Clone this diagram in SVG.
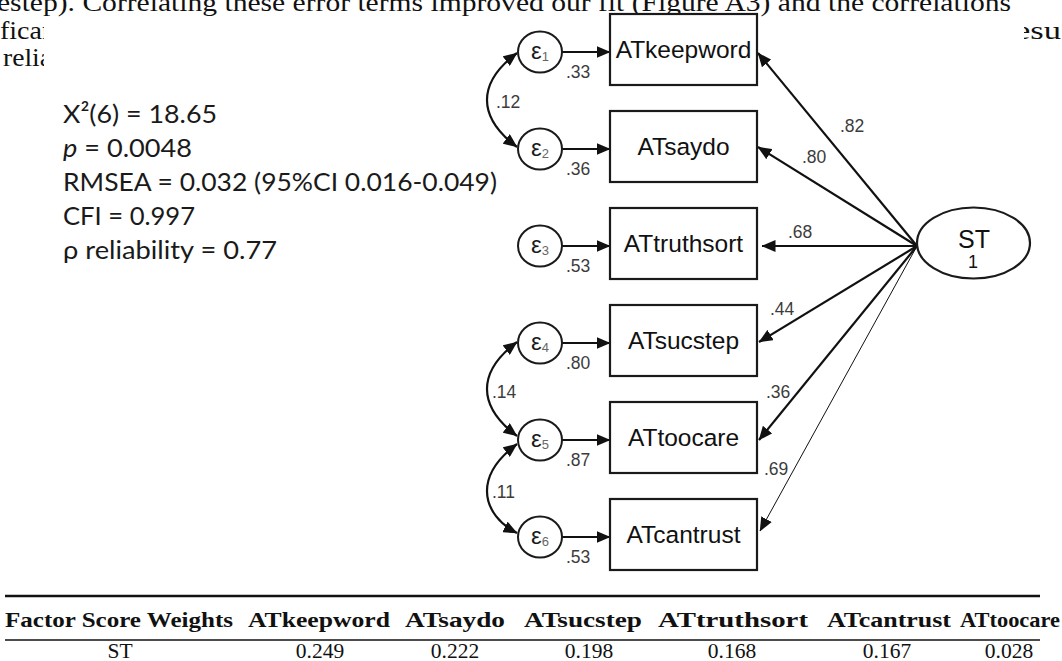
<svg xmlns="http://www.w3.org/2000/svg" width="1062" height="661" viewBox="0 0 1062 661">
  <style>
    .para { font-family: "Liberation Serif", "Times New Roman", serif; font-size: 25px; fill: #111; }
    .fit { font-family: Lato, "Open Sans", sans-serif; font-size: 25.5px; fill: #1a1a1a; }
    .obs rect { fill: #fff; stroke: #1a1a1a; stroke-width: 2.2; }
    .obs text { font-family: "Liberation Sans", Arial, sans-serif; font-size: 24.5px; fill: #111; text-anchor: middle; }
    .err ellipse { fill: #fff; stroke: #1a1a1a; stroke-width: 2; }
    .err text { font-family: "Liberation Sans", Arial, sans-serif; font-size: 24px; fill: #1a1a1a; text-anchor: middle; }
    .sub { font-size: 13px; fill: #666; }
    .num { font-family: "Liberation Sans", Arial, sans-serif; font-size: 17.5px; fill: #3c3c3c; }
    .edge { fill: none; stroke: #111; stroke-width: 2.2; marker-end: url(#ah); }
    .thin { stroke-width: 1; }
    .cov { fill: none; stroke: #111; stroke-width: 2.2; marker-start: url(#ah); marker-end: url(#ah); }
    .tbl { font-family: "Liberation Serif", "Times New Roman", serif; font-size: 21.5px; fill: #111; text-anchor: middle; }
    .hd { font-weight: bold; }
  </style>
  <defs>
    <marker id="ah" viewBox="0 0 14 12" refX="13.5" refY="6" markerWidth="14" markerHeight="12"
            markerUnits="userSpaceOnUse" orient="auto-start-reverse">
      <path d="M0,0 L14,6 L0,12 z" fill="#111"/>
    </marker>
    <clipPath id="clipL"><rect x="0" y="0" width="44" height="80"/></clipPath>
    <clipPath id="clipR"><rect x="1024" y="0" width="40" height="80"/></clipPath>
  </defs>

  <!-- running paragraph text around the figure -->
  <g id="paragraph" class="para">
    <text x="-3" y="11" textLength="1014" lengthAdjust="spacingAndGlyphs">estep). Correlating these error terms improved our fit (Figure A3) and the correlations</text>
    <text x="0" y="39" clip-path="url(#clipL)" textLength="56" lengthAdjust="spacingAndGlyphs">fican</text>
    <text x="1015" y="39" clip-path="url(#clipR)" textLength="46" lengthAdjust="spacingAndGlyphs">esu</text>
    <text x="3" y="66" clip-path="url(#clipL)" textLength="49" lengthAdjust="spacingAndGlyphs">relia</text>
  </g>

  <!-- model fit statistics -->
  <g id="fit-stats" class="fit">
    <text x="63" y="123" textLength="154" lengthAdjust="spacingAndGlyphs">X²(6) = 18.65</text>
    <text x="63" y="157" textLength="129" lengthAdjust="spacingAndGlyphs"><tspan font-style="italic">p</tspan> = 0.0048</text>
    <text x="63" y="191" textLength="434" lengthAdjust="spacingAndGlyphs">RMSEA = 0.032 (95%CI 0.016-0.049)</text>
    <text x="63" y="225" textLength="132" lengthAdjust="spacingAndGlyphs">CFI = 0.997</text>
    <text x="63" y="259" textLength="214" lengthAdjust="spacingAndGlyphs">ρ reliability = 0.77</text>
  </g>

  <!-- connectors: loadings, error paths, error covariances -->
  <g id="connectors">
    <line class="edge" x1="917" y1="246" x2="758" y2="53"/>
    <line class="edge" x1="917" y1="246" x2="758" y2="147"/>
    <line class="edge" x1="917" y1="246" x2="762" y2="246"/>
    <line class="edge" x1="917" y1="246" x2="759" y2="342"/>
    <line class="edge" x1="917" y1="246" x2="759" y2="440"/>
    <line class="edge thin" x1="917" y1="246" x2="760" y2="531"/>

    <line class="edge" x1="562" y1="52" x2="610" y2="52"/>
    <line class="edge" x1="562" y1="149" x2="610" y2="149"/>
    <line class="edge" x1="562" y1="246" x2="610" y2="246"/>
    <line class="edge" x1="562" y1="343" x2="610" y2="343"/>
    <line class="edge" x1="562" y1="440" x2="610" y2="440"/>
    <line class="edge" x1="562" y1="537" x2="610" y2="537"/>

    <path class="cov" d="M517,53 C501,65 487,81 487,100 C487,119 501,135 517,147"/>
    <path class="cov" d="M517,342 C501,354 487,370 487,389 C487,408 501,424 517,436"/>
    <path class="cov" d="M517,444 C501,456 487,472 487,491 C487,510 501,525 517,533"/>

    <g class="num">
      <text x="840" y="132">.82</text>
      <text x="802" y="163">.80</text>
      <text x="788" y="238">.68</text>
      <text x="770" y="315">.44</text>
      <text x="766" y="398">.36</text>
      <text x="764" y="475">.69</text>
      <text x="566" y="78">.33</text>
      <text x="566" y="175">.36</text>
      <text x="566" y="272">.53</text>
      <text x="566" y="369">.80</text>
      <text x="566" y="466">.87</text>
      <text x="566" y="563">.53</text>
      <text x="496" y="108">.12</text>
      <text x="492" y="398">.14</text>
      <text x="492" y="498">.11</text>
    </g>
  </g>

  <!-- observed indicators -->
  <g id="ATkeepword" class="obs"><rect x="610" y="14" width="147" height="71"/><text x="683.5" y="58">ATkeepword</text></g>
  <g id="ATsaydo" class="obs"><rect x="610" y="111" width="147" height="71"/><text x="683.5" y="155">ATsaydo</text></g>
  <g id="ATtruthsort" class="obs"><rect x="610" y="208" width="147" height="71"/><text x="683.5" y="252">ATtruthsort</text></g>
  <g id="ATsucstep" class="obs"><rect x="610" y="305" width="147" height="71"/><text x="683.5" y="349">ATsucstep</text></g>
  <g id="ATtoocare" class="obs"><rect x="610" y="402" width="147" height="71"/><text x="683.5" y="446">ATtoocare</text></g>
  <g id="ATcantrust" class="obs"><rect x="610" y="499" width="147" height="71"/><text x="683.5" y="543">ATcantrust</text></g>

  <!-- error terms -->
  <g id="e1" class="err"><ellipse cx="540" cy="52" rx="22" ry="20.5"/><text x="540" y="59">ε<tspan class="sub" dy="2">1</tspan></text></g>
  <g id="e2" class="err"><ellipse cx="540" cy="149" rx="22" ry="20.5"/><text x="540" y="156">ε<tspan class="sub" dy="2">2</tspan></text></g>
  <g id="e3" class="err"><ellipse cx="540" cy="246" rx="22" ry="20.5"/><text x="540" y="253">ε<tspan class="sub" dy="2">3</tspan></text></g>
  <g id="e4" class="err"><ellipse cx="540" cy="343" rx="22" ry="20.5"/><text x="540" y="350">ε<tspan class="sub" dy="2">4</tspan></text></g>
  <g id="e5" class="err"><ellipse cx="540" cy="440" rx="22" ry="20.5"/><text x="540" y="447">ε<tspan class="sub" dy="2">5</tspan></text></g>
  <g id="e6" class="err"><ellipse cx="540" cy="537" rx="22" ry="20.5"/><text x="540" y="544">ε<tspan class="sub" dy="2">6</tspan></text></g>

  <!-- latent factor -->
  <g id="ST">
    <ellipse cx="973.5" cy="243" rx="56.5" ry="35.5" fill="#fff" stroke="#1a1a1a" stroke-width="2.2"/>
    <text x="974" y="248" font-family="Liberation Sans, Arial, sans-serif" font-size="25" text-anchor="middle" fill="#111">ST</text>
    <text x="973" y="268" font-family="Liberation Sans, Arial, sans-serif" font-size="18" text-anchor="middle" fill="#111">1</text>
  </g>

  <!-- factor score weights table -->
  <g id="weights-table">
    <line x1="5" y1="596" x2="1040" y2="596" stroke="#111" stroke-width="2.5"/>
    <line x1="5" y1="640" x2="1040" y2="640" stroke="#111" stroke-width="1.6"/>
    <g class="tbl hd">
      <text x="119" y="627" textLength="228" lengthAdjust="spacingAndGlyphs">Factor Score Weights</text>
      <text x="319" y="627" textLength="142" lengthAdjust="spacingAndGlyphs">ATkeepword</text>
      <text x="455" y="627" textLength="100" lengthAdjust="spacingAndGlyphs">ATsaydo</text>
      <text x="583" y="627" textLength="118" lengthAdjust="spacingAndGlyphs">ATsucstep</text>
      <text x="733" y="627" textLength="150" lengthAdjust="spacingAndGlyphs">ATtruthsort</text>
      <text x="889" y="627" textLength="124" lengthAdjust="spacingAndGlyphs">ATcantrust</text>
      <text x="1010" y="627" textLength="100" lengthAdjust="spacingAndGlyphs">ATtoocare</text>
    </g>
    <g class="tbl">
      <text x="120" y="658">ST</text>
      <text x="320" y="658">0.249</text>
      <text x="455" y="658">0.222</text>
      <text x="589" y="658">0.198</text>
      <text x="732" y="658">0.168</text>
      <text x="887" y="658">0.167</text>
      <text x="1009" y="658">0.028</text>
    </g>
  </g>
</svg>
